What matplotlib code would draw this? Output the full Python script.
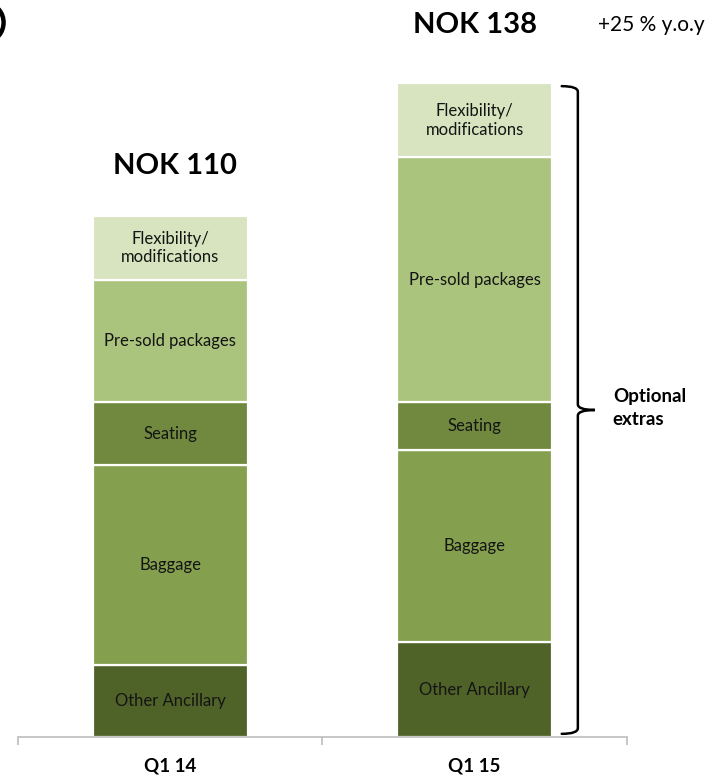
import matplotlib

matplotlib.use("Agg")
import matplotlib.pyplot as plt
import numpy as np
from matplotlib.patches import Arc
from matplotlib.path import Path
from matplotlib.patches import PathPatch

# Ancillary revenue per passenger, NOK, stacked bottom to top
quarters = ["Q1 14", "Q1 15"]
segments = ["Other Ancillary", "Baggage", "Seating", "Pre-sold packages", "Flexibility/\nmodifications"]
q1_14 = [15.1, 42.2, 13.3, 25.9, 13.5]
q1_15 = [19.9, 40.7, 10.0, 51.8, 15.6]
totals = ["NOK 110", "NOK 138"]
growth_label = "+25 % y.o.y"
bracket_label = "Optional\nextras"

colors = ["#4F6228", "#84A04E", "#71893F", "#ABC47D", "#D7E4BF"]

plt.rcParams["font.family"] = ["Lato", "DejaVu Sans"]

fig = plt.figure(figsize=(7.13, 7.77), dpi=100)
ax = fig.add_axes([0.0252, 0.0519, 0.854, 0.914])

x = np.arange(len(quarters))
values = np.array([q1_14, q1_15])
bottoms = np.zeros(len(quarters))
for i, seg in enumerate(segments):
    h = values[:, i]
    ax.bar(x, h, bottom=bottoms, width=0.51, color=colors[i],
           edgecolor="white", linewidth=1.6, zorder=2)
    for xi, b, hi in zip(x, bottoms, h):
        ax.text(xi, b + hi / 2, seg, ha="center", va="center",
                fontsize=12, color="#141414", linespacing=1.2, zorder=3)
    bottoms = bottoms + h

# totals above the bars
ax.text(x[0] + 0.015, bottoms[0] + 10.5, totals[0], ha="center", va="center",
        fontsize=21, fontweight="bold")
ax.text(x[1], bottoms[1] + 12.3, totals[1], ha="center", va="center",
        fontsize=21, fontweight="bold", clip_on=False)
ax.text(1.405, bottoms[1] + 12.3, growth_label, ha="left", va="center",
        fontsize=15, clip_on=False)

# curly bracket spanning the second bar
top, bot = bottoms[1] - 0.6, 0.6
mid = (top + bot) / 2
xa, xb, xc = 1.286, 1.339, 1.395
verts = [
    (xa, top), (xb, top), (xb, top - 1.2),
    (xb, mid + 1.2),
    (xb, mid), (xc, mid), (xc, mid),
    (xb, mid), (xb, mid - 1.2), (xb, mid - 1.2),
    (xb, bot + 1.2),
    (xb, bot), (xa, bot), (xa, bot),
]
codes = [Path.MOVETO, Path.CURVE3, Path.CURVE3,
         Path.LINETO,
         Path.CURVE3, Path.CURVE3, Path.LINETO,
         Path.CURVE3, Path.CURVE3, Path.LINETO,
         Path.LINETO,
         Path.CURVE3, Path.CURVE3, Path.LINETO]
ax.add_patch(PathPatch(Path(verts, codes), fill=False, lw=1.8,
                       edgecolor="black", clip_on=False, capstyle="round"))
ax.text(1.454, mid + 0.4, bracket_label, ha="left", va="center",
        fontsize=13.5, fontweight="bold", linespacing=1.4, clip_on=False)

# partial ring at the top-left edge
fig.add_artist(Arc((-0.016, 0.971), 0.042, 0.046, transform=fig.transFigure,
                   lw=3.2, color="black", theta1=-90, theta2=90))

ax.set_xlim(-0.5, 1.5)
ax.set_ylim(0, 150)
for side in ["top", "right", "left"]:
    ax.spines[side].set_visible(False)
ax.spines["bottom"].set_color("#BDBDBD")
ax.spines["bottom"].set_linewidth(1.2)
ax.set_yticks([])
ax.set_xticks(x)
ax.set_xticklabels(quarters, fontsize=13.5, fontweight="bold")
ax.tick_params(axis="x", which="major", length=0, pad=15)
ax.set_xticks([-0.5, 0.5, 1.5], minor=True)
ax.tick_params(axis="x", which="minor", length=5.5, width=1.2, color="#BDBDBD")

fig.savefig("out.png", dpi=100)
